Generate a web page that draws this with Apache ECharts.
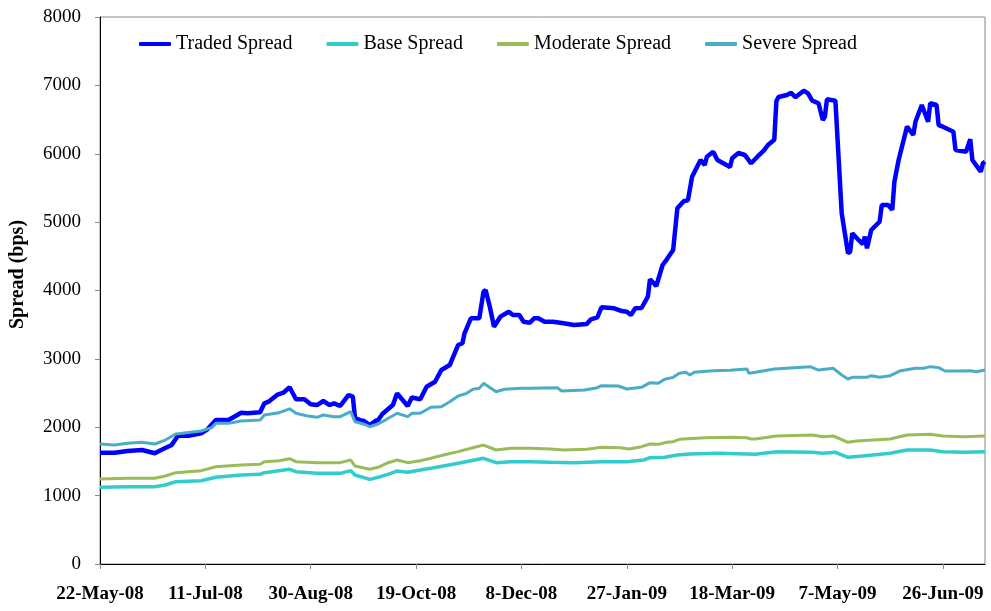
<!DOCTYPE html>
<html>
<head>
<meta charset="utf-8">
<title>Traded vs scenario spreads</title>
<script src="https://cdn.jsdelivr.net/npm/echarts@6/dist/echarts.min.js"></script>
<style>
  html, body { margin: 0; padding: 0; background: #fff; }
  #chart { width: 991px; height: 611px; }
</style>
</head>
<body>
<div id="chart"></div>
<script>
// x values are days counted from 22-May-08
const startDate = Date.UTC(2008, 4, 22)
const xTicks = [0, 50, 100, 150, 200, 250, 300, 350, 400]
const yTicks = [0, 1000, 2000, 3000, 4000, 5000, 6000, 7000, 8000]
const seriesNames = ['Traded Spread', 'Base Spread', 'Moderate Spread', 'Severe Spread']

const tradedDays = [0, 7, 13, 20, 26, 29, 34, 37, 42, 48, 51, 55, 61, 67, 70, 76, 78, 80, 84, 87,
  90, 93, 97, 100, 103, 106, 109, 111, 114, 118, 120, 121, 124, 125, 128, 131, 132, 134, 138, 139,
  141, 146, 148, 152, 155, 159, 162, 166, 167, 170, 172, 173, 176, 180, 182, 183, 185, 187, 190, 194,
  196, 199, 201, 204, 206, 208, 211, 215, 220, 225, 231, 233, 236, 238, 244, 247, 250, 252, 254, 257,
  260, 261, 264, 267, 269, 272, 274, 277, 279, 281, 285, 287, 288, 291, 293, 299, 300, 303, 306, 309,
  312, 315, 317, 320, 321, 322, 326, 328, 330, 334, 336, 338, 341, 343, 344, 345, 349, 352, 355, 356,
  357, 360, 362, 363, 364, 366, 370, 371, 374, 376, 377, 379, 383, 386, 387, 390, 393, 394, 397, 398,
  400, 405, 406, 411, 413, 414, 418, 419, 420]
const tradedVals = [1628, 1628, 1653, 1667, 1619, 1667, 1740, 1876, 1876, 1911, 1970, 2106, 2106, 2213, 2204, 2219, 2350, 2374, 2472, 2505,
  2584, 2409, 2409, 2336, 2325, 2384, 2325, 2350, 2311, 2472, 2447, 2135, 2096, 2096, 2033, 2096, 2106, 2194, 2300, 2325,
  2496, 2311, 2435, 2409, 2593, 2666, 2837, 2910, 2984, 3203, 3228, 3374, 3593, 3593, 3982, 4007, 3763, 3470, 3617, 3690,
  3642, 3642, 3544, 3529, 3593, 3593, 3544, 3544, 3520, 3495, 3510, 3579, 3608, 3754, 3740, 3705, 3690, 3642, 3740, 3744,
  3909, 4165, 4066, 4373, 4456, 4592, 5202, 5306, 5319, 5664, 5908, 5835, 5957, 6030, 5908, 5806, 5933, 6011, 5982, 5860,
  5957, 6045, 6128, 6205, 6771, 6830, 6859, 6893, 6825, 6922, 6884, 6776, 6738, 6494, 6542, 6796, 6776, 5129, 4544, 4567,
  4836, 4739, 4680, 4787, 4617, 4885, 5006, 5250, 5250, 5180, 5591, 5908, 6396, 6274, 6469, 6713, 6469, 6738, 6713, 6420,
  6396, 6323, 6055, 6030, 6211, 5908, 5738, 5860, 5884]

const baseDays = [0, 13, 26, 31, 36, 48, 55, 67, 76, 78, 90, 93, 103, 114, 119, 121, 128, 132, 138, 141,
  146, 152, 157, 163, 170, 176, 182, 188, 195, 204, 214, 225, 238, 250, 258, 261, 268, 274, 280, 293,
  307, 311, 321, 338, 343, 349, 355, 362, 375, 383, 394, 400, 410, 420]
const baseVals = [1122, 1131, 1131, 1155, 1204, 1218, 1268, 1302, 1312, 1336, 1385, 1350, 1326, 1326, 1365, 1302, 1238, 1268, 1326, 1360,
  1341, 1375, 1399, 1433, 1473, 1511, 1546, 1482, 1497, 1496, 1487, 1482, 1496, 1496, 1521, 1555, 1560, 1594, 1609, 1619,
  1609, 1604, 1643, 1633, 1619, 1633, 1560, 1580, 1619, 1667, 1667, 1643, 1633, 1643]

const moderateDays = [0, 13, 26, 31, 36, 48, 55, 67, 76, 78, 85, 90, 93, 103, 114, 119, 121, 128, 132, 136,
  141, 146, 152, 157, 163, 170, 176, 182, 188, 195, 204, 214, 220, 231, 238, 247, 251, 257, 261, 265,
  269, 272, 275, 279, 287, 299, 307, 309, 311, 321, 338, 343, 348, 355, 359, 375, 383, 394, 400, 410, 420]
const moderateVals = [1243, 1253, 1253, 1287, 1336, 1365, 1423, 1448, 1458, 1496, 1511, 1540, 1497, 1482, 1482, 1521, 1433, 1385, 1414, 1473,
  1521, 1482, 1511, 1546, 1594, 1643, 1692, 1740, 1667, 1692, 1692, 1682, 1667, 1677, 1706, 1701, 1682, 1716, 1755, 1750,
  1780, 1789, 1823, 1833, 1847, 1852, 1847, 1828, 1828, 1872, 1887, 1862, 1872, 1780, 1799, 1828, 1887, 1896, 1872, 1862, 1872]

const severeDays = [0, 7, 13, 20, 26, 31, 36, 39, 48, 53, 55, 61, 67, 76, 78, 85, 90, 93, 98, 103,
  106, 111, 114, 119, 121, 125, 128, 132, 136, 141, 146, 148, 152, 157, 162, 166, 170, 174, 177, 180,
  182, 188, 192, 200, 204, 217, 219, 230, 236, 238, 246, 250, 257, 261, 265, 268, 272, 275, 278, 280,
  282, 291, 299, 307, 308, 311, 320, 337, 341, 348, 352, 355, 357, 364, 366, 370, 375, 380, 387, 391,
  394, 398, 401, 406, 413, 416, 420]
const severeVals = [1755, 1740, 1765, 1780, 1755, 1813, 1901, 1911, 1945, 1994, 2057, 2057, 2091, 2106, 2179, 2213, 2270, 2204, 2169, 2145,
  2179, 2155, 2155, 2228, 2081, 2048, 2008, 2048, 2116, 2204, 2155, 2204, 2204, 2292, 2301, 2374, 2457, 2496, 2555, 2569,
  2642, 2520, 2555, 2569, 2569, 2579, 2530, 2545, 2579, 2608, 2603, 2559, 2584, 2652, 2642, 2701, 2730, 2789, 2803, 2764,
  2803, 2827, 2832, 2852, 2789, 2803, 2852, 2886, 2837, 2862, 2764, 2706, 2730, 2730, 2754, 2730, 2754, 2827, 2862, 2862,
  2886, 2872, 2823, 2823, 2827, 2813, 2837]

const months = ['Jan', 'Feb', 'Mar', 'Apr', 'May', 'Jun', 'Jul', 'Aug', 'Sep', 'Oct', 'Nov', 'Dec']
const dayLabel = (v) => {
  const d = new Date(startDate + v * 86400000)
  return d.getUTCDate() + '-' + months[d.getUTCMonth()] + '-' + String(d.getUTCFullYear()).slice(2)
}
const pairs = (days, vals) => days.map((d, i) => [d, vals[i]])

const serif = "'Liberation Serif', 'DejaVu Serif', serif"

const chart = echarts.init(document.getElementById('chart'))

chart.setOption({
  animation: false,
  backgroundColor: '#fff',
  textStyle: { fontFamily: serif },
  grid: {
    left: 100, right: 6, top: 17, bottom: 47,
    containLabel: false, outerBoundsMode: 'none',
    show: true, borderColor: '#888', borderWidth: 1, backgroundColor: 'transparent'
  },
  legend: {
    left: 134, top: 29,
    icon: 'roundRect',
    itemWidth: 32, itemHeight: 4, itemGap: 34,
    textStyle: { fontFamily: serif, fontSize: 20, color: '#000' },
    data: seriesNames
  },
  xAxis: {
    type: 'value',
    min: 0, max: 420, interval: 50,
    splitLine: { show: false },
    axisLine: { lineStyle: { color: '#000', width: 1 } },
    axisTick: { show: true, length: 5, lineStyle: { color: '#888' }, customValues: xTicks },
    axisLabel: {
      customValues: xTicks,
      formatter: dayLabel,
      margin: 21,
      fontFamily: serif, fontSize: 19, fontWeight: 'bold', color: '#000'
    }
  },
  yAxis: {
    type: 'value',
    min: 0, max: 8000, interval: 1000,
    name: 'Spread (bps)',
    nameLocation: 'middle',
    nameGap: 72,
    nameTextStyle: { fontFamily: serif, fontSize: 20, fontWeight: 'bold', color: '#000', padding: [0, 0, 0, 32] },
    splitLine: { show: false },
    axisLine: { show: true, lineStyle: { color: '#000', width: 1 } },
    axisTick: { show: true, length: 5, lineStyle: { color: '#888' }, customValues: yTicks },
    axisLabel: {
      customValues: yTicks,
      formatter: (v) => String(v),
      margin: 19,
      fontFamily: serif, fontSize: 19, color: '#000'
    }
  },
  series: [
    {
      name: seriesNames[0], type: 'line', symbol: 'none',
      data: pairs(tradedDays, tradedVals),
      itemStyle: { color: '#0000FF' },
      lineStyle: { color: '#0000FF', width: 4.5 }
    },
    {
      name: seriesNames[1], type: 'line', symbol: 'none',
      data: pairs(baseDays, baseVals),
      itemStyle: { color: '#33CCCC' },
      lineStyle: { color: '#33CCCC', width: 3.5 }
    },
    {
      name: seriesNames[2], type: 'line', symbol: 'none',
      data: pairs(moderateDays, moderateVals),
      itemStyle: { color: '#9BBB59' },
      lineStyle: { color: '#9BBB59', width: 3 }
    },
    {
      name: seriesNames[3], type: 'line', symbol: 'none',
      data: pairs(severeDays, severeVals),
      itemStyle: { color: '#4BACC6' },
      lineStyle: { color: '#4BACC6', width: 3 }
    }
  ]
})
</script>
</body>
</html>
